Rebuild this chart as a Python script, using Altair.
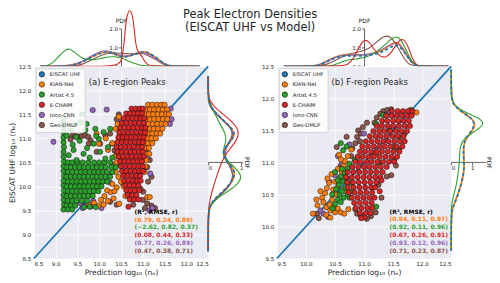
import altair as alt
import pandas as pd

FONT = "DejaVu Sans"
INK = "#262626"
AXIS_INK = "#3c3c3c"
PANEL_BG = "#EAEAF2"

MODELS = ["EISCAT UHF", "KIAN-Net", "Artist 4.5", "E-CHAIM", "Iono-CNN", "Geo-DMLP"]
COLORS = ["#1f77b4", "#ff7f0e", "#2ca02c", "#d62728", "#9467bd", "#8c564b"]
PAL = dict(zip(MODELS, COLORS))
DRAW_ORDER = ["Geo-DMLP", "Iono-CNN", "KIAN-Net", "Artist 4.5", "E-CHAIM"]
LINE_ORDER = ["KIAN-Net", "Iono-CNN", "Geo-DMLP", "Artist 4.5", "E-CHAIM", "EISCAT UHF"]

TITLE_LINES = ["Peak Electron Densities", "(EISCAT UHF vs Model)"]
E_TICKS = [8.5, 9.0, 9.5, 10.0, 10.5, 11.0, 11.5, 12.0, 12.5]
F_TICKS = [9.5, 10.0, 10.5, 11.0, 11.5, 12.0, 12.5]
PDF_TOP_TICKS = [0, 1, 2]
PDF_RIGHT_TICKS = [0, 1]

STATS_HEADER = "(R², RMSE, r)"
E_STATS = [("KIAN-Net", "(0.79, 0.24, 0.89)"), ("Artist 4.5", "(−2.62, 0.82, 0.37)"),
           ("E-CHAIM", "(0.08, 0.44, 0.33)"), ("Iono-CNN", "(0.77, 0.26, 0.89)"),
           ("Geo-DMLP", "(0.47, 0.38, 0.71)")]
F_STATS = [("KIAN-Net", "(0.94, 0.11, 0.97)"), ("Artist 4.5", "(0.92, 0.11, 0.96)"),
           ("E-CHAIM", "(0.67, 0.26, 0.91)"), ("Iono-CNN", "(0.93, 0.12, 0.96)"),
           ("Geo-DMLP", "(0.71, 0.23, 0.87)")]

# ---------------- E-region scatter (prediction x, EISCAT y) ----------------
E_ARTIST_COLUMN = [(9.18, 9.52), (9.19, 9.62), (9.18, 9.72), (9.18, 9.82), (9.19, 9.92),
                   (9.18, 10.02), (9.18, 10.12), (9.19, 10.22), (9.18, 10.32), (9.18, 10.42),
                   (9.19, 10.52), (9.18, 10.62), (9.18, 10.72), (9.19, 10.82), (9.18, 10.92),
                   (9.18, 11.02), (9.19, 11.12), (9.18, 11.22), (9.18, 11.32), (9.18, 11.42)]
E_ARTIST_ROWS = [
    (10.50, [9.28, 9.38, 9.5, 9.62, 9.75, 9.88, 10.0, 10.12, 10.25]),
    (10.40, [9.25, 9.35, 9.45, 9.55, 9.65, 9.75, 9.85, 9.95, 10.05, 10.15, 10.28, 10.38]),
    (10.30, [9.28, 9.38, 9.48, 9.58, 9.68, 9.78, 9.88, 9.98, 10.08, 10.18, 10.3]),
    (10.20, [9.25, 9.35, 9.45, 9.55, 9.65, 9.75, 9.85, 9.95, 10.05, 10.15, 10.25]),
    (10.10, [9.28, 9.38, 9.48, 9.58, 9.68, 9.78, 9.88, 9.98, 10.08, 10.18]),
    (10.00, [9.25, 9.35, 9.45, 9.55, 9.65, 9.75, 9.85, 9.95, 10.05]),
    (9.90, [9.28, 9.38, 9.48, 9.58, 9.68, 9.78, 9.88, 9.98]),
    (9.80, [9.25, 9.35, 9.45, 9.55, 9.65, 9.75, 9.85]),
    (9.70, [9.28, 9.38, 9.48, 9.6, 9.72]),
    (9.60, [9.25, 9.35, 9.45]),
    (9.52, [9.28, 9.38]),
]
E_ARTIST_SPARSE = [(9.65, 9.57), (9.78, 9.58), (9.92, 9.57), (9.34, 11.17), (9.57, 11.34),
                   (9.71, 11.3), (9.68, 11.17), (9.91, 11.2), (10.1, 11.13), (9.99, 10.99),
                   (9.87, 10.89), (10.25, 11.2), (9.41, 10.76), (9.64, 10.68), (9.3, 10.65),
                   (10.02, 10.72), (9.48, 10.55), (9.78, 10.6), (10.14, 10.58), (10.3, 10.6),
                   (9.39, 10.87), (9.47, 11.03), (9.25, 11.06), (9.44, 11.28), (9.93, 11.05),
                   (9.55, 10.95), (9.72, 10.8), (10.2, 10.82), (9.6, 11.5)]
E_ECHAIM_ROWS = [
    (11.62, [10.74, 10.84, 10.93, 11.0]),
    (11.52, [10.62, 10.71, 10.8, 10.89, 10.98]),
    (11.42, [10.56, 10.66, 10.76, 10.86, 10.95, 11.03]),
    (11.32, [10.52, 10.62, 10.72, 10.82, 10.92, 11.02]),
    (11.22, [10.48, 10.58, 10.68, 10.78, 10.88, 10.98, 11.06]),
    (11.12, [10.46, 10.56, 10.66, 10.76, 10.86, 10.96, 11.05]),
    (11.02, [10.44, 10.54, 10.64, 10.74, 10.84, 10.94, 11.02]),
    (10.92, [10.42, 10.52, 10.62, 10.72, 10.82, 10.92, 11.0]),
    (10.82, [10.4, 10.5, 10.6, 10.7, 10.8, 10.9, 10.98]),
    (10.72, [10.42, 10.52, 10.62, 10.72, 10.82, 10.92, 11.0]),
    (10.62, [10.45, 10.55, 10.65, 10.75, 10.85, 10.95, 11.02]),
    (10.52, [10.48, 10.58, 10.68, 10.78, 10.88, 10.98]),
    (10.42, [10.5, 10.6, 10.7, 10.8, 10.9, 11.0]),
    (10.32, [10.52, 10.62, 10.72, 10.82, 10.92, 11.0]),
    (10.22, [10.55, 10.65, 10.75, 10.85, 10.94]),
    (10.12, [10.57, 10.67, 10.77, 10.87, 10.95]),
    (10.02, [10.6, 10.7, 10.8, 10.9]),
    (9.92, [10.62, 10.72, 10.82, 10.92]),
    (9.82, [10.65, 10.75, 10.85]),
    (9.73, [10.7, 10.8, 10.9]),
    (9.58, [10.67]),
]
E_KIAN_ROWS = [
    (11.70, [11.12, 11.22, 11.32, 11.42, 11.5]),
    (11.60, [11.06, 11.16, 11.26, 11.36, 11.46, 11.56]),
    (11.50, [11.04, 11.14, 11.24, 11.34, 11.44, 11.54, 11.6]),
    (11.40, [11.06, 11.16, 11.26, 11.36, 11.46, 11.56]),
    (11.30, [11.03, 11.13, 11.23, 11.33, 11.43, 11.52]),
    (11.20, [11.05, 11.15, 11.25, 11.35, 11.45]),
    (11.10, [11.02, 11.12, 11.22, 11.32, 11.4]),
    (11.00, [11.0, 11.1, 11.2, 11.3]),
    (10.90, [11.02, 11.12, 11.22]),
    (10.80, [11.04, 11.14]),
    (10.68, [11.06, 11.15]),
    (10.55, [11.08]),
    (10.42, [11.06]),
    (10.30, [11.04]),
]
E_KIAN_SPARSE = [(9.76, 9.62), (9.88, 9.66), (9.98, 9.6), (10.04, 9.72), (10.12, 9.8), (10.2, 9.7),
                 (10.26, 9.88), (10.33, 9.75), (10.4, 9.98), (10.46, 9.64), (10.5, 10.1), (10.56, 10.0),
                 (10.44, 10.2), (10.38, 10.3), (10.35, 9.9), (10.18, 9.92), (10.3, 10.05), (10.1, 9.62),
                 (10.6, 9.8), (10.62, 10.25), (10.37, 11.2), (10.42, 11.3), (10.5, 11.08), (10.6, 10.98),
                 (10.45, 10.95), (9.99, 10.89), (10.2, 10.76), (9.94, 11.1), (10.3, 10.9), (10.15, 11.0),
                 (10.36, 10.62), (10.4, 10.5), (11.1, 9.78), (11.16, 9.78), (10.45, 11.45)]
E_IONO = [(8.95, 10.93), (9.85, 11.59), (10.17, 11.6), (11.66, 11.4), (11.64, 11.62), (11.62, 11.3),
          (9.57, 9.65), (9.7, 9.6), (9.8, 9.58), (9.86, 9.7), (10.25, 10.08), (11.15, 9.5), (11.22, 9.55),
          (11.13, 10.89), (11.17, 10.27), (11.05, 10.4), (10.92, 10.24), (10.5, 11.38), (10.05, 9.55),
          (9.62, 9.55), (11.1, 10.6)]
E_GEO = [(9.38, 11.05), (9.45, 11.05), (9.52, 11.04), (9.6, 11.05), (9.68, 11.06), (9.75, 11.03),
         (9.34, 10.98), (9.8, 10.96), (9.76, 10.89), (10.02, 10.89), (10.14, 11.06), (10.25, 11.1),
         (9.94, 10.72), (10.4, 10.65), (10.3, 10.89), (10.45, 10.8), (10.35, 10.75), (11.05, 11.03),
         (11.08, 10.75), (11.16, 10.55), (11.1, 10.4), (11.2, 10.2), (10.25, 9.68), (10.4, 9.62),
         (10.71, 9.82), (10.78, 9.62), (11.01, 9.89), (10.86, 10.17), (11.0, 9.72), (11.1, 9.65),
         (11.2, 9.6), (11.28, 9.55), (11.05, 9.55), (10.4, 11.4), (10.45, 11.5), (10.55, 10.05),
         (10.32, 10.45), (11.12, 10.1), (10.95, 9.95)]

# ---------------- F-region scatter ----------------
F_ECHAIM_ROWS = [
    (11.80, [11.48, 11.58, 11.67, 11.76, 11.83]),
    (11.73, [11.38, 11.47, 11.56, 11.65, 11.74, 11.82]),
    (11.65, [11.31, 11.4, 11.5, 11.59, 11.68, 11.77]),
    (11.57, [11.22, 11.31, 11.41, 11.5, 11.6, 11.7, 11.79]),
    (11.49, [11.16, 11.26, 11.35, 11.45, 11.55, 11.64, 11.74]),
    (11.41, [11.1, 11.2, 11.29, 11.39, 11.49, 11.58, 11.68]),
    (11.33, [11.03, 11.13, 11.23, 11.33, 11.42, 11.52, 11.62, 11.7]),
    (11.25, [10.97, 11.07, 11.17, 11.27, 11.36, 11.46, 11.56, 11.66]),
    (11.17, [10.93, 11.02, 11.12, 11.22, 11.31, 11.41, 11.51, 11.61]),
    (11.09, [10.89, 10.98, 11.08, 11.17, 11.27, 11.37, 11.47, 11.57]),
    (11.01, [10.85, 10.94, 11.04, 11.13, 11.23, 11.33, 11.43, 11.52]),
    (10.93, [10.8, 10.9, 11.0, 11.09, 11.19, 11.29, 11.39]),
    (10.85, [10.72, 10.82, 10.92, 11.02, 11.12, 11.22, 11.32]),
    (10.77, [10.69, 10.79, 10.89, 10.99, 11.09, 11.19, 11.28]),
    (10.69, [10.71, 10.81, 10.91, 11.01, 11.11, 11.21]),
    (10.61, [10.72, 10.82, 10.92, 11.02, 11.12, 11.19]),
    (10.53, [10.74, 10.84, 10.94, 11.04, 11.14]),
    (10.45, [10.79, 10.89, 10.99, 11.09, 11.18]),
    (10.37, [10.83, 10.93, 11.03, 11.13]),
    (10.29, [10.86, 10.96, 11.06, 11.14]),
    (10.21, [10.93, 11.03, 11.11]),
    (10.14, [11.01]),
]
F_ECHAIM_SPARSE = [(11.27, 10.55), (11.3, 10.72), (10.95, 10.13)]
F_KIAN = [(10.28, 10.45), (10.33, 10.52), (10.36, 10.6), (10.4, 10.68), (10.37, 10.75), (10.44, 10.82),
          (10.3, 10.38), (10.35, 10.3), (10.41, 10.34), (10.45, 10.42), (10.42, 10.25), (10.5, 10.22),
          (10.48, 10.3), (10.55, 10.28), (10.6, 10.22), (10.66, 10.2), (10.73, 10.27), (10.52, 10.5),
          (10.47, 10.58), (10.55, 10.62), (10.5, 10.7), (10.58, 10.75), (10.62, 10.85), (10.55, 10.9),
          (10.65, 10.95), (10.67, 11.02), (10.6, 11.05), (10.72, 11.1), (10.78, 11.2), (11.2, 11.15),
          (11.9, 11.78), (11.8, 11.82), (10.12, 10.2), (10.2, 10.33), (10.25, 10.55), (10.57, 11.12),
          (10.68, 10.55), (10.35, 10.18), (10.42, 10.14), (10.18, 10.42)]
F_ARTIST = [(10.5, 10.35), (10.55, 10.42), (10.6, 10.38), (10.65, 10.45), (10.58, 10.5), (10.52, 10.58),
            (10.62, 10.55), (10.68, 10.6), (10.57, 10.65), (10.64, 10.7), (10.7, 10.75), (10.6, 10.78),
            (10.55, 10.72), (10.67, 10.83), (10.5, 10.85), (10.62, 10.9), (10.72, 10.9), (10.75, 10.98),
            (10.84, 11.04), (10.64, 11.19), (10.7, 11.25), (10.6, 11.3), (11.21, 11.6), (11.44, 11.5),
            (11.51, 11.24), (11.33, 11.74), (11.82, 11.81), (11.21, 10.31), (10.46, 10.28), (10.75, 10.45),
            (10.8, 10.55), (10.78, 10.68), (11.6, 11.4), (11.25, 11.0), (10.45, 10.5), (10.72, 10.5)]
F_GEO = [(11.33, 11.8), (11.4, 11.82), (11.28, 11.76), (11.36, 11.74), (11.47, 11.83), (11.22, 11.7),
         (11.18, 11.62), (10.9, 11.5), (10.95, 11.45), (10.88, 11.4), (10.98, 11.55), (10.93, 11.33),
         (11.05, 11.62), (10.85, 11.3), (10.8, 11.22), (10.78, 11.1), (10.53, 11.24), (10.7, 11.4),
         (10.88, 10.2), (10.95, 10.16), (11.12, 10.16), (11.2, 10.22), (10.85, 10.27), (11.47, 10.8),
         (11.39, 10.78), (11.25, 10.65), (11.52, 11.04), (11.6, 11.2), (11.7, 11.45), (10.19, 10.2),
         (10.22, 10.13), (11.3, 10.45), (11.05, 10.12), (10.6, 10.95), (11.55, 10.95)]
F_IONO = [(10.4, 10.7), (10.3, 10.2), (10.38, 10.15), (10.55, 11.1), (10.62, 10.98), (11.45, 11.78),
          (10.25, 10.25), (10.75, 11.28), (11.0, 11.45), (10.5, 10.8)]

# ---------------- marginal PDFs (value, pdf) ----------------
E_TOP = {
    "EISCAT UHF": [(8.65, 0), (9.1, 0), (9.3, 0.03), (9.5, 0.12), (9.7, 0.32), (9.9, 0.58), (10.05, 0.72),
                   (10.2, 0.78), (10.35, 0.66), (10.5, 0.5), (10.65, 0.5), (10.8, 0.62), (10.95, 0.75),
                   (11.08, 0.78), (11.22, 0.6), (11.38, 0.33), (11.5, 0.12), (11.62, 0.02), (11.75, 0), (12.3, 0)],
    "KIAN-Net": [(8.65, 0), (9.1, 0), (9.3, 0.04), (9.5, 0.14), (9.7, 0.34), (9.9, 0.6), (10.05, 0.73),
                 (10.2, 0.78), (10.35, 0.65), (10.5, 0.5), (10.65, 0.52), (10.8, 0.64), (10.95, 0.76),
                 (11.08, 0.78), (11.22, 0.6), (11.38, 0.32), (11.5, 0.1), (11.62, 0.02), (11.75, 0), (12.3, 0)],
    "Artist 4.5": [(8.65, 0), (8.8, 0.02), (8.95, 0.2), (9.1, 0.6), (9.22, 0.88), (9.32, 0.95), (9.45, 0.72),
                   (9.6, 0.42), (9.75, 0.33), (9.9, 0.35), (10.05, 0.42), (10.2, 0.5), (10.35, 0.52),
                   (10.5, 0.45), (10.65, 0.3), (10.8, 0.15), (10.95, 0.05), (11.1, 0), (12.3, 0)],
    "E-CHAIM": [(8.65, 0), (10.1, 0), (10.3, 0.04), (10.45, 0.12), (10.52, 0.3), (10.57, 1.2), (10.62, 2.6),
                (10.7, 3.1), (10.78, 2.6), (10.83, 1.2), (10.88, 0.8), (10.95, 0.62), (11.02, 0.35),
                (11.1, 0.08), (11.18, 0), (12.3, 0)],
    "Iono-CNN": [(8.65, 0), (9.25, 0), (9.45, 0.08), (9.65, 0.3), (9.85, 0.6), (10.05, 0.82), (10.2, 0.84),
                 (10.35, 0.7), (10.5, 0.55), (10.65, 0.52), (10.8, 0.62), (10.95, 0.72), (11.1, 0.68),
                 (11.25, 0.5), (11.4, 0.25), (11.55, 0.06), (11.7, 0), (12.3, 0)],
    "Geo-DMLP": [(8.65, 0), (9.4, 0), (9.6, 0.08), (9.8, 0.3), (10.0, 0.55), (10.2, 0.7), (10.4, 0.72),
                 (10.6, 0.66), (10.8, 0.66), (10.95, 0.7), (11.1, 0.6), (11.3, 0.35), (11.45, 0.12),
                 (11.6, 0.02), (11.7, 0), (12.3, 0)],
}
E_RIGHT = {
    "EISCAT UHF": [(8.65, 0), (9.45, 0), (9.6, 0.05), (9.75, 0.2), (9.9, 0.45), (10.05, 0.66), (10.2, 0.78),
                   (10.32, 0.8), (10.45, 0.65), (10.6, 0.47), (10.72, 0.44), (10.85, 0.55), (11.0, 0.74),
                   (11.1, 0.8), (11.22, 0.7), (11.38, 0.45), (11.55, 0.2), (11.7, 0.05), (11.82, 0), (12.3, 0)],
    "KIAN-Net": [(8.65, 0), (9.45, 0), (9.6, 0.06), (9.75, 0.22), (9.9, 0.47), (10.05, 0.68), (10.2, 0.79),
                 (10.32, 0.8), (10.45, 0.66), (10.6, 0.48), (10.72, 0.45), (10.85, 0.56), (11.0, 0.75),
                 (11.1, 0.8), (11.22, 0.69), (11.38, 0.44), (11.55, 0.19), (11.7, 0.04), (11.82, 0), (12.3, 0)],
    "Artist 4.5": [(8.65, 0), (9.45, 0), (9.6, 0.06), (9.75, 0.25), (9.9, 0.6), (10.05, 0.9), (10.2, 1.02),
                   (10.35, 0.88), (10.5, 0.62), (10.65, 0.45), (10.8, 0.46), (10.95, 0.55), (11.1, 0.52),
                   (11.25, 0.4), (11.4, 0.28), (11.55, 0.18), (11.7, 0.08), (11.85, 0.02), (11.95, 0), (12.3, 0)],
    "E-CHAIM": [(8.65, 0), (9.55, 0), (9.7, 0.05), (9.9, 0.12), (10.1, 0.2), (10.3, 0.3), (10.5, 0.4),
                (10.7, 0.55), (10.9, 0.8), (11.05, 0.92), (11.2, 0.9), (11.35, 0.72), (11.5, 0.45),
                (11.65, 0.2), (11.78, 0.05), (11.9, 0), (12.3, 0)],
    "Iono-CNN": [(8.65, 0), (9.5, 0), (9.65, 0.08), (9.8, 0.3), (9.95, 0.55), (10.1, 0.7), (10.25, 0.75),
                 (10.4, 0.68), (10.55, 0.55), (10.7, 0.5), (10.85, 0.58), (11.0, 0.72), (11.12, 0.76),
                 (11.25, 0.65), (11.4, 0.42), (11.55, 0.18), (11.7, 0.04), (11.82, 0), (12.3, 0)],
    "Geo-DMLP": [(8.65, 0), (9.5, 0), (9.65, 0.08), (9.8, 0.32), (9.95, 0.58), (10.1, 0.72), (10.25, 0.76),
                 (10.4, 0.67), (10.55, 0.52), (10.7, 0.46), (10.85, 0.55), (11.0, 0.7), (11.12, 0.74),
                 (11.25, 0.64), (11.4, 0.4), (11.55, 0.16), (11.7, 0.03), (11.82, 0), (12.3, 0)],
}
F_TOP = {
    "EISCAT UHF": [(9.62, 0), (10.1, 0), (10.22, 0.05), (10.35, 0.22), (10.5, 0.45), (10.65, 0.56), (10.8, 0.56),
                   (10.95, 0.55), (11.1, 0.58), (11.25, 0.68), (11.4, 0.9), (11.52, 1.12), (11.6, 1.1),
                   (11.7, 0.75), (11.8, 0.25), (11.9, 0.02), (12.0, 0), (12.45, 0)],
    "KIAN-Net": [(9.62, 0), (10.1, 0), (10.22, 0.06), (10.35, 0.25), (10.5, 0.5), (10.65, 0.62), (10.8, 0.62),
                 (10.95, 0.6), (11.1, 0.62), (11.25, 0.75), (11.4, 1.0), (11.52, 1.28), (11.6, 1.25),
                 (11.7, 0.8), (11.8, 0.25), (11.9, 0.02), (12.0, 0), (12.45, 0)],
    "Artist 4.5": [(9.62, 0), (10.35, 0), (10.48, 0.05), (10.6, 0.22), (10.75, 0.36), (10.9, 0.4), (11.05, 0.48),
                   (11.2, 0.72), (11.35, 1.1), (11.48, 1.5), (11.58, 1.62), (11.68, 1.2), (11.78, 0.45),
                   (11.88, 0.05), (11.95, 0), (12.45, 0)],
    "E-CHAIM": [(9.62, 0), (10.6, 0), (10.72, 0.06), (10.82, 0.4), (10.92, 1.05), (11.0, 1.42), (11.08, 1.35),
                (11.18, 0.85), (11.28, 0.5), (11.38, 0.45), (11.48, 0.75), (11.58, 1.3), (11.67, 1.5),
                (11.75, 1.15), (11.83, 0.4), (11.9, 0.05), (11.97, 0), (12.45, 0)],
    "Iono-CNN": [(9.62, 0), (10.1, 0), (10.22, 0.06), (10.35, 0.24), (10.5, 0.48), (10.65, 0.6), (10.8, 0.6),
                 (10.95, 0.6), (11.1, 0.64), (11.25, 0.8), (11.4, 1.05), (11.52, 1.25), (11.6, 1.2),
                 (11.7, 0.78), (11.8, 0.24), (11.9, 0.02), (12.0, 0), (12.45, 0)],
    "Geo-DMLP": [(9.62, 0), (10.2, 0), (10.35, 0.08), (10.5, 0.3), (10.65, 0.55), (10.8, 0.7), (10.95, 0.78),
                 (11.1, 0.95), (11.22, 1.3), (11.35, 1.62), (11.45, 1.6), (11.55, 1.2), (11.65, 0.6),
                 (11.75, 0.15), (11.83, 0), (12.45, 0)],
}
F_RIGHT = {
    "EISCAT UHF": [(9.62, 0), (10.2, 0), (10.3, 0.08), (10.45, 0.28), (10.6, 0.42), (10.75, 0.55), (10.9, 0.62),
                   (11.05, 0.6), (11.2, 0.58), (11.35, 0.62), (11.48, 0.95), (11.6, 1.15), (11.7, 0.95),
                   (11.8, 0.45), (11.9, 0.12), (12.0, 0), (12.45, 0)],
    "KIAN-Net": [(9.62, 0), (10.2, 0), (10.3, 0.08), (10.45, 0.27), (10.6, 0.42), (10.75, 0.55), (10.9, 0.62),
                 (11.05, 0.61), (11.2, 0.58), (11.35, 0.64), (11.48, 0.98), (11.6, 1.18), (11.7, 0.95),
                 (11.8, 0.45), (11.9, 0.12), (12.0, 0), (12.45, 0)],
    "Artist 4.5": [(9.62, 0), (10.3, 0), (10.4, 0.05), (10.5, 0.13), (10.65, 0.25), (10.8, 0.32), (10.95, 0.38),
                   (11.1, 0.4), (11.25, 0.42), (11.38, 0.6), (11.5, 1.2), (11.6, 1.62), (11.7, 1.3),
                   (11.8, 0.55), (11.9, 0.12), (12.0, 0), (12.45, 0)],
}

# ---------------- layout constants ----------------
SC_W, SC_H = 175, 193
TOP_H = 38
RIGHT_W = 35
GAP = 34
E_RIGHT_MAX, F_RIGHT_MAX = 1.05, 1.66


def expand(rows):
    return [(x, y) for y, xs in rows for x in xs]


E_POINTS = {
    "Artist 4.5": E_ARTIST_COLUMN + expand(E_ARTIST_ROWS) + E_ARTIST_SPARSE,
    "E-CHAIM": expand(E_ECHAIM_ROWS),
    "KIAN-Net": expand(E_KIAN_ROWS) + E_KIAN_SPARSE,
    "Iono-CNN": E_IONO,
    "Geo-DMLP": E_GEO,
}
F_POINTS = {
    "Artist 4.5": F_ARTIST,
    "E-CHAIM": expand(F_ECHAIM_ROWS) + F_ECHAIM_SPARSE,
    "KIAN-Net": F_KIAN,
    "Iono-CNN": F_IONO,
    "Geo-DMLP": F_GEO,
}


def line_style(m):
    if m == "EISCAT UHF":
        return dict(color=PAL[m], strokeWidth=1.8, strokeDash=[3, 2.5])
    if m == "KIAN-Net":
        return dict(color=PAL[m], strokeWidth=1.8)
    return dict(color=PAL[m], strokeWidth=1.1)


def axis_style():
    return dict(grid=False, domainColor=AXIS_INK, tickColor=AXIS_INK, domainWidth=0.8, tickWidth=0.8,
                tickSize=2.5, labelFont=FONT, labelFontSize=5.6, labelColor=INK, labelPadding=1,
                titleFont=FONT, titleFontSize=6, titleFontWeight="normal", titleColor=INK)


def scatter_panel(points, lo, ticks, stats, ytitle, label, label_xy, stats_xy, stats_step):
    recs = []
    for m in DRAW_ORDER:
        for x, y in points[m]:
            recs.append({"model": m, "x": x, "y": y})
    df = pd.DataFrame(recs)
    sc = alt.Scale(domain=[lo, 12.5], nice=False, zero=False)
    common = dict(values=ticks, format=".1f", domain=False, ticks=False, grid=True, gridColor="white",
                  gridWidth=0.8, gridOpacity=1, labelFont=FONT, labelFontSize=5.6, labelColor=INK,
                  labelPadding=3, titleFont=FONT, titleFontSize=7.6, titleFontWeight="normal",
                  titleColor=INK)
    xaxis = alt.Axis(title="Prediction  log₁₀ (nₑ)", titlePadding=1, **common)
    if ytitle:
        yaxis = alt.Axis(title=ytitle, titlePadding=2, **common)
    else:
        yaxis = alt.Axis(title=None, **common)

    def enc(ch):
        return ch.encode(x=alt.X("x:Q", scale=sc, axis=xaxis), y=alt.Y("y:Q", scale=sc, axis=yaxis))

    diag = enc(alt.Chart(pd.DataFrame({"x": [lo, 12.5], "y": [lo, 12.5]}))
               .mark_line(color=PAL["EISCAT UHF"], strokeWidth=1.8))
    legend = alt.Legend(title=None, orient="top-left", offset=2, fillColor="rgba(255,255,255,0.85)",
                        strokeColor="#d4d4d4", cornerRadius=2, padding=3, labelFont=FONT,
                        labelFontSize=5.3, labelColor=INK, symbolType="circle", symbolSize=30,
                        symbolStrokeColor="black", symbolStrokeWidth=0.5, symbolOpacity=1,
                        rowPadding=2.2, labelOffset=5)
    dots = alt.Chart(df).mark_circle(size=28, stroke="black", strokeWidth=0.45, opacity=1).encode(
        x=alt.X("x:Q", scale=sc, axis=xaxis), y=alt.Y("y:Q", scale=sc, axis=yaxis),
        color=alt.Color("model:N", scale=alt.Scale(domain=MODELS, range=COLORS), legend=legend))
    layers = [diag, dots]
    lab = enc(alt.Chart(pd.DataFrame({"x": [label_xy[0]], "y": [label_xy[1]], "t": [label]}))
              .mark_text(align="left", baseline="middle", font=FONT, fontSize=8.5, color=INK)
              ).encode(text="t:N")
    layers.append(lab)
    hdr = enc(alt.Chart(pd.DataFrame({"x": [stats_xy[0]], "y": [stats_xy[1]], "t": [STATS_HEADER]}))
              .mark_text(align="left", baseline="middle", font=FONT, fontSize=6, fontWeight="bold",
                         color="black")).encode(text="t:N")
    layers.append(hdr)
    for i, (m, s) in enumerate(stats):
        t = enc(alt.Chart(pd.DataFrame({"x": [stats_xy[0]], "y": [stats_xy[1] - (i + 1) * stats_step],
                                        "t": [s]}))
                .mark_text(align="left", baseline="middle", font=FONT, fontSize=6, fontWeight="bold",
                           color=PAL[m])).encode(text="t:N")
        layers.append(t)
    return alt.layer(*layers).properties(width=SC_W, height=SC_H,
                                         view=alt.ViewBackground(fill=PANEL_BG, strokeOpacity=0))


def top_marg(curves, lo):
    sx = alt.Scale(domain=[lo, 12.5], nice=False, zero=False)
    sy = alt.Scale(domain=[0, 2], nice=False, zero=False)
    ax = alt.Axis(values=PDF_TOP_TICKS, offset=-SC_W / 2, title="PDF", titleAngle=0, titleX=0, titleY=-5,
                  titleAlign="center", titleBaseline="bottom", **axis_style())
    layers = []
    for m in LINE_ORDER:
        df = pd.DataFrame(curves[m], columns=["v", "p"])
        layers.append(alt.Chart(df).mark_line(interpolate="basis", **line_style(m)).encode(
            x=alt.X("v:Q", scale=sx, axis=None), y=alt.Y("p:Q", scale=sy, axis=ax)))
    return alt.layer(*layers).properties(width=SC_W, height=TOP_H)


def right_marg(curves, lo, xmax, total_w, title_gap):
    # the panel is total_w wide, of which the first RIGHT_W pixels hold the PDF range [0, xmax]
    sx = alt.Scale(domain=[0, xmax * total_w / RIGHT_W], nice=False, zero=False)
    sy = alt.Scale(domain=[lo, 12.5], nice=False, zero=False)
    ax = alt.Axis(values=PDF_RIGHT_TICKS, offset=-SC_H / 2, title="PDF", titleAngle=90,
                  titleX=RIGHT_W + title_gap, titleY=0, titleAlign="center", titleBaseline="middle",
                  **dict(axis_style(), domain=False))
    mid = (lo + 12.5) / 2
    rule = alt.Chart(pd.DataFrame({"a": [0.0], "b": [xmax], "v": [mid]})).mark_rule(
        color=AXIS_INK, strokeWidth=0.8).encode(
        x=alt.X("a:Q", scale=sx, axis=ax), x2="b:Q", y=alt.Y("v:Q", scale=sy, axis=None))
    layers = [rule]
    for m in LINE_ORDER:
        if m not in curves:
            continue
        df = pd.DataFrame(curves[m], columns=["v", "p"])
        layers.append(alt.Chart(df).mark_line(interpolate="basis", **line_style(m)).encode(
            x=alt.X("p:Q", scale=sx, axis=ax), y=alt.Y("v:Q", scale=sy, axis=None),
            order=alt.Order("v:Q")))
    return alt.layer(*layers).properties(width=total_w, height=SC_H)


def blank(w):
    return alt.Chart(pd.DataFrame({"v": [0]})).mark_point(opacity=0).encode(
        x=alt.X("v:Q", axis=None), y=alt.Y("v:Q", axis=None)).properties(width=w, height=TOP_H)


scat_e = scatter_panel(E_POINTS, 8.5, E_TICKS, E_STATS, "EISCAT UHF  log₁₀ (nₑ)", "(a) E-region Peaks",
                       (9.76, 12.17), (10.81, 9.47), 0.162)
scat_f = scatter_panel(F_POINTS, 9.5, F_TICKS, F_STATS, None, "(b) F-region Peaks",
                       (10.44, 12.25), (11.44, 10.23), 0.121)

chart = alt.concat(
    top_marg(E_TOP, 8.5), blank(RIGHT_W + GAP), top_marg(F_TOP, 9.5), blank(RIGHT_W),
    scat_e, right_marg(E_RIGHT, 8.5, E_RIGHT_MAX, RIGHT_W + GAP, 3), scat_f,
    right_marg(F_RIGHT, 9.5, F_RIGHT_MAX, RIGHT_W, 2.5),
    columns=4, spacing=0, bounds="flush",
).resolve_scale(color="independent", x="independent", y="independent").resolve_legend(
    color="independent").properties(
    title=alt.TitleParams(text=TITLE_LINES, font=FONT, fontSize=11.5, fontWeight="normal", color=INK,
                          anchor="middle", lineHeight=13.5, offset=-25),
    padding=0).configure_view(strokeOpacity=0)

chart.save("out.html", embed_options={"renderer": "svg", "actions": False})
